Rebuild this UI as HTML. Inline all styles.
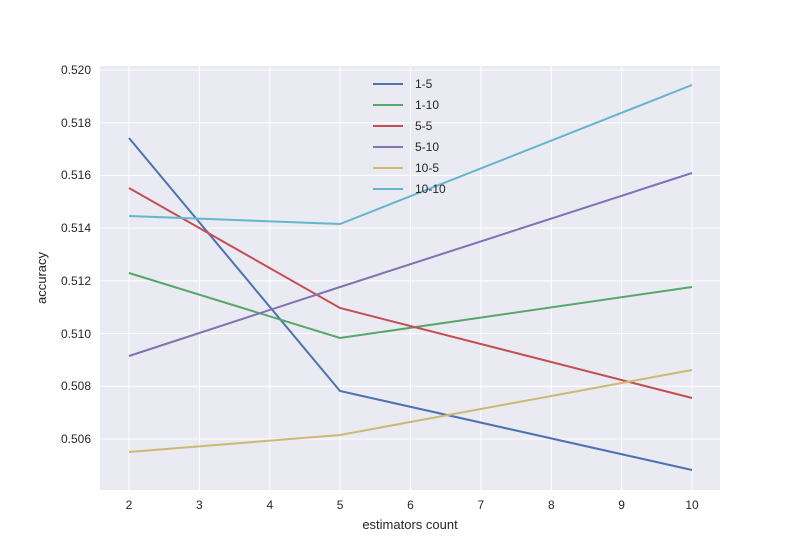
<!DOCTYPE html>
<html><head><style>body{margin:0;background:#fff}svg{display:block}text{font-family:"Liberation Sans",sans-serif;fill:#262626}</style></head>
<body>
<svg width="800" height="550" xmlns="http://www.w3.org/2000/svg">
<rect x="100" y="66" width="620" height="424" fill="#EAEAF2"/>
<g stroke="#fff" stroke-width="1">
<line x1="129" y1="66" x2="129" y2="490"/><line x1="199.4" y1="66" x2="199.4" y2="490"/><line x1="269.8" y1="66" x2="269.8" y2="490"/><line x1="340.1" y1="66" x2="340.1" y2="490"/><line x1="410.5" y1="66" x2="410.5" y2="490"/><line x1="480.9" y1="66" x2="480.9" y2="490"/><line x1="551.3" y1="66" x2="551.3" y2="490"/><line x1="621.6" y1="66" x2="621.6" y2="490"/><line x1="692" y1="66" x2="692" y2="490"/>
<line x1="100" y1="70" x2="720" y2="70"/><line x1="100" y1="122.7" x2="720" y2="122.7"/><line x1="100" y1="175.4" x2="720" y2="175.4"/><line x1="100" y1="228.1" x2="720" y2="228.1"/><line x1="100" y1="280.9" x2="720" y2="280.9"/><line x1="100" y1="333.6" x2="720" y2="333.6"/><line x1="100" y1="386.3" x2="720" y2="386.3"/><line x1="100" y1="439" x2="720" y2="439"/>
</g>
<g font-size="12" text-anchor="middle">
<text x="129" y="509">2</text><text x="199.4" y="509">3</text><text x="269.8" y="509">4</text><text x="340.1" y="509">5</text><text x="410.5" y="509">6</text><text x="480.9" y="509">7</text><text x="551.3" y="509">8</text><text x="621.6" y="509">9</text><text x="692" y="509">10</text>
</g>
<g font-size="12" text-anchor="end">
<text x="91" y="74">0.520</text><text x="91" y="127">0.518</text><text x="91" y="179">0.516</text><text x="91" y="232">0.514</text><text x="91" y="285">0.512</text><text x="91" y="338">0.510</text><text x="91" y="390">0.508</text><text x="91" y="443">0.506</text>
</g>
<text x="410" y="529" font-size="13" text-anchor="middle">estimators count</text>
<text x="46" y="278" font-size="13" text-anchor="middle" transform="rotate(-90 46 278)">accuracy</text>
<g fill="none" stroke-width="2">
<polyline stroke="#4C72B0" points="129,138 340,391 692,470"/>
<polyline stroke="#55A868" points="129,273 340,338 692,287"/>
<polyline stroke="#C44E52" points="129,188 340,308 692,398"/>
<polyline stroke="#8172B2" points="129,356 340,287 692,173"/>
<polyline stroke="#CCB974" points="129,452 340,435 692,370"/>
<polyline stroke="#64B5CD" points="129,216 340,224 692,85"/>
</g>
<g stroke-width="2">
<line x1="373" y1="84" x2="403" y2="84" stroke="#4C72B0"/>
<line x1="373" y1="105" x2="403" y2="105" stroke="#55A868"/>
<line x1="373" y1="126" x2="403" y2="126" stroke="#C44E52"/>
<line x1="373" y1="147" x2="403" y2="147" stroke="#8172B2"/>
<line x1="373" y1="168" x2="403" y2="168" stroke="#CCB974"/>
<line x1="373" y1="189" x2="403" y2="189" stroke="#64B5CD"/>
</g>
<g font-size="12">
<text x="415" y="88">1-5</text><text x="415" y="109">1-10</text><text x="415" y="130">5-5</text><text x="415" y="151">5-10</text><text x="415" y="172">10-5</text><text x="415" y="193">10-10</text>
</g>
</svg>
</body></html>
